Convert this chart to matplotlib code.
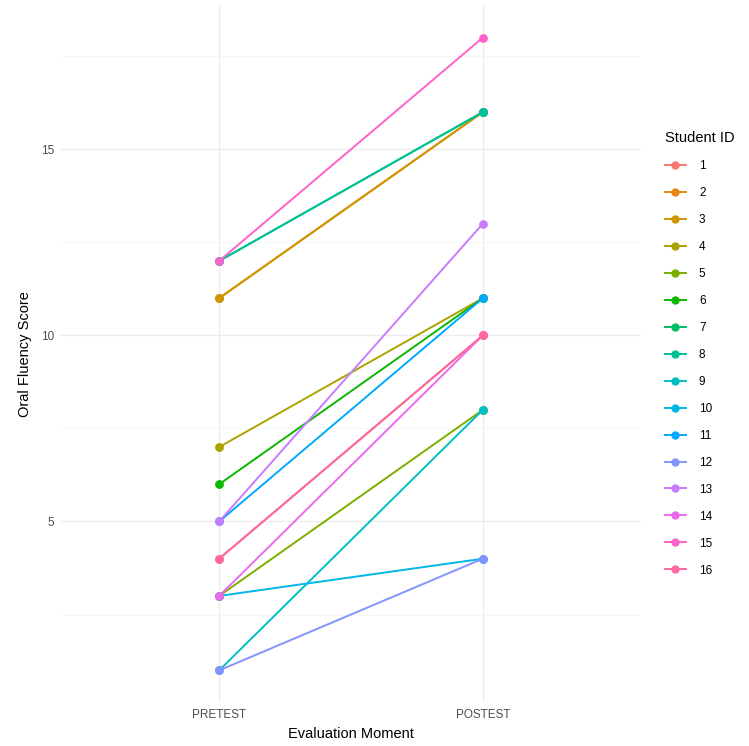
import numpy as np
import matplotlib
matplotlib.use("Agg")
import matplotlib.pyplot as plt
from matplotlib.lines import Line2D

plt.rcParams["font.family"] = ["Liberation Sans", "DejaVu Sans"]

students = [str(i) for i in range(1, 17)]
moments = ["PRETEST", "POSTEST"]
pretest = [4, 11, 11, 7, 3, 6, 12, 12, 1, 3, 5, 1, 5, 3, 12, 4]
posttest = [10, 16, 16, 11, 8, 11, 16, 16, 8, 4, 11, 4, 13, 10, 18, 10]
y_ticks = [5, 10, 15]


def hue_pal(n, l=65, c=100, h0=15, h1=375):
    # ggplot2 default discrete palette (polar LUV -> sRGB)
    hs = np.linspace(h0, h1, n + 1)[:-1]
    Xn, Yn, Zn = 95.047, 100.0, 108.883
    un = 4 * Xn / (Xn + 15 * Yn + 3 * Zn)
    vn = 9 * Yn / (Xn + 15 * Yn + 3 * Zn)
    M = np.array([[3.2404542, -1.5371385, -0.4985314],
                  [-0.9692660, 1.8760108, 0.0415560],
                  [0.0556434, -0.2040259, 1.0572252]])
    out = []
    for h in hs:
        u = c * np.cos(np.radians(h))
        v = c * np.sin(np.radians(h))
        Y = Yn * ((l + 16) / 116) ** 3
        up = u / (13 * l) + un
        vp = v / (13 * l) + vn
        X = 9 * Y * up / (4 * vp)
        Z = -X / 3 - 5 * Y + 3 * Y / vp
        rgb = M @ (np.array([X, Y, Z]) / 100)
        rgb = np.where(rgb <= 0.0031308, 12.92 * rgb, 1.055 * np.power(np.clip(rgb, 0, None), 1 / 2.4) - 0.055)
        out.append(tuple(np.clip(rgb, 0, 1)))
    return out


colors = hue_pal(len(students))

fig = plt.figure(figsize=(7.49, 7.46), dpi=100)
ax = fig.add_axes([61 / 749, 1 - 702 / 746, 580 / 749, 696 / 746])

xpos = np.arange(1, len(moments) + 1)
for i, s in enumerate(students):
    ax.plot(xpos, [pretest[i], posttest[i]], color=colors[i], lw=1.4,
            solid_capstyle="butt", zorder=3)
for i, s in enumerate(students):
    ax.scatter(xpos, [pretest[i], posttest[i]], color=colors[i], s=40,
               linewidths=0, zorder=4)

lo, hi = min(pretest + posttest), max(pretest + posttest)
pad = (hi - lo) * 0.05
ax.set_ylim(lo - pad, hi + pad)
ax.set_xlim(0.4, 2.6)

ax.set_xticks(xpos)
ax.set_xticklabels(moments)
ax.set_yticks(y_ticks)
ax.set_yticks([2.5, 7.5, 12.5, 17.5], minor=True)
ax.grid(True, which="major", color="#EBEBEB", lw=0.9, zorder=0)
ax.grid(True, which="minor", axis="y", color="#F3F3F3", lw=0.5, zorder=0)
ax.set_axisbelow(True)
for sp in ax.spines.values():
    sp.set_visible(False)
ax.tick_params(which="both", length=0, labelsize=8.5, labelcolor="#4D4D4D", pad=5)

ax.set_xlabel("Evaluation Moment", fontsize=10.5, labelpad=4)
ax.set_ylabel("Oral Fluency Score", fontsize=10.5, labelpad=6)

handles = [Line2D([0], [0], color=colors[i], lw=1.4, marker="o", markersize=6,
                  markeredgewidth=0) for i in range(len(students))]
leg = fig.legend(handles, students, title="Student ID", loc="upper left",
                 bbox_to_anchor=(660 / 749, 1 - 126 / 746), frameon=False,
                 fontsize=8.5, title_fontsize=10.5, handlelength=1.8,
                 handletextpad=1.1, labelspacing=1.27, borderaxespad=0)
leg._legend_box.align = "left"

fig.savefig("out.png", dpi=100)
